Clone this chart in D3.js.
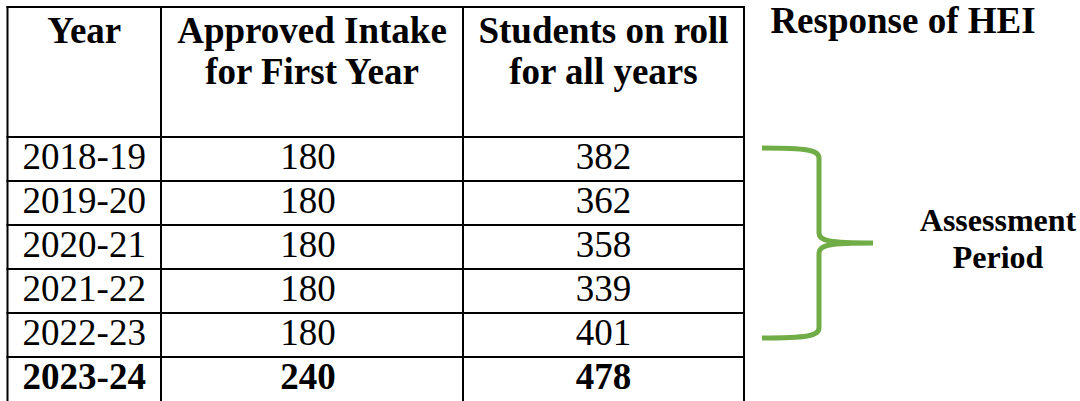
<!DOCTYPE html>
<html>
<head>
<meta charset="utf-8">
<script src="https://cdn.jsdelivr.net/npm/d3@7"></script>
</head>
<body style="margin:0">
<svg id="chart" width="1080" height="401" font-family="'Liberation Serif', Tinos, 'Times New Roman', serif"></svg>
<script>
// table data
let years    = ["2018-19", "2019-20", "2020-21", "2021-22", "2022-23", "2023-24"];
let intake   = [180, 180, 180, 180, 180, 240];
let students = [382, 362, 358, 339, 401, 478];
let boldYears = ["2023-24"];
let assessmentYears = ["2018-19", "2019-20", "2020-21", "2021-22", "2022-23"];

let headers = [
    ["Year"],
    ["Approved Intake", "for First Year"],
    ["Students on roll", "for all years"]
];

let chart = d3.select("#chart");
let fontFamily = "'Liberation Serif', Tinos, 'Times New Roman', serif";

// column edges
let colEdges = [7.5, 161, 463, 744];
let col = d3.scaleOrdinal()
    .domain([0, 1, 2])
    .range([0, 1, 2].map(i => (colEdges[i] + colEdges[i + 1]) / 2));

// row position scale
let y = d3.scaleBand()
    .domain(years)
    .range([137, 401])
    .padding(0);

let tableTop = 7;
let fontSize = 37;

// grid lines
chart.append("g")
    .selectAll("line")
    .data([tableTop].concat(years.map(d => y(d))))
    .enter()
    .append("line")
    .attr("x1", colEdges[0] - 1)
    .attr("x2", colEdges[3] + 1)
    .attr("y1", d => d)
    .attr("y2", d => d)
    .attr("stroke", "#000")
    .attr("stroke-width", 2);

chart.append("g")
    .selectAll("line")
    .data(colEdges)
    .enter()
    .append("line")
    .attr("x1", d => d)
    .attr("x2", d => d)
    .attr("y1", tableTop - 1)
    .attr("y2", 405)
    .attr("stroke", "#000")
    .attr("stroke-width", 2);

// header cells
headers.forEach(function(lines, i) {
    chart.selectAll(".h" + i)
        .data(lines)
        .enter()
        .append("text")
        .attr("x", col(i))
        .attr("y", (d, j) => 43 + j * 41)
        .attr("text-anchor", "middle")
        .style("font-family", fontFamily)
        .style("font-size", fontSize + "px")
        .style("font-weight", "bold")
        .text(d => d);
});

// body rows
let rows = years.map((d, i) => [d, intake[i], students[i]]);

rows.forEach(function(r) {
    chart.selectAll(null)
        .data(r)
        .enter()
        .append("text")
        .attr("x", (d, i) => col(i) - (i == 1 ? 4 : 0))
        .attr("y", y(r[0]) + 32)
        .attr("text-anchor", "middle")
        .style("font-family", fontFamily)
        .style("font-size", fontSize + "px")
        .style("font-weight", boldYears.includes(r[0]) ? "bold" : "normal")
        .text(d => d);
});

// title on the right
chart.append("text")
    .attr("x", 903)
    .attr("y", 33)
    .attr("text-anchor", "middle")
    .style("font-family", fontFamily)
    .style("font-size", "37px")
    .style("font-weight", "bold")
    .text("Response of HEI");

// green brace spanning the assessment period rows
let braceTop = y(assessmentYears[0]) + 11;
let braceBottom = y(assessmentYears[assessmentYears.length - 1]) + y.bandwidth() - 19;
let braceMid = (braceTop + braceBottom) / 2;
let bx = 819, lx = 762, tx = 873;

let brace = d3.path();
brace.moveTo(lx, braceTop);
brace.bezierCurveTo(bx - 12, braceTop, bx, braceTop + 2, bx, braceTop + 10);
brace.lineTo(bx, braceMid - 10);
brace.bezierCurveTo(bx, braceMid - 2, bx + 10, braceMid, tx, braceMid);
brace.moveTo(tx, braceMid);
brace.bezierCurveTo(bx + 10, braceMid, bx, braceMid + 2, bx, braceMid + 10);
brace.lineTo(bx, braceBottom - 10);
brace.bezierCurveTo(bx, braceBottom - 2, bx - 12, braceBottom, lx, braceBottom);

chart.append("path")
    .attr("d", brace.toString())
    .attr("fill", "none")
    .attr("stroke", "#70ad47")
    .attr("stroke-width", 5);

chart.selectAll(".period")
    .data(["Assessment", "Period"])
    .enter()
    .append("text")
    .attr("x", 998)
    .attr("y", (d, i) => 231 + i * 37)
    .attr("text-anchor", "middle")
    .style("font-family", fontFamily)
    .style("font-size", "32px")
    .style("font-weight", "bold")
    .text(d => d);
</script>
</body>
</html>
